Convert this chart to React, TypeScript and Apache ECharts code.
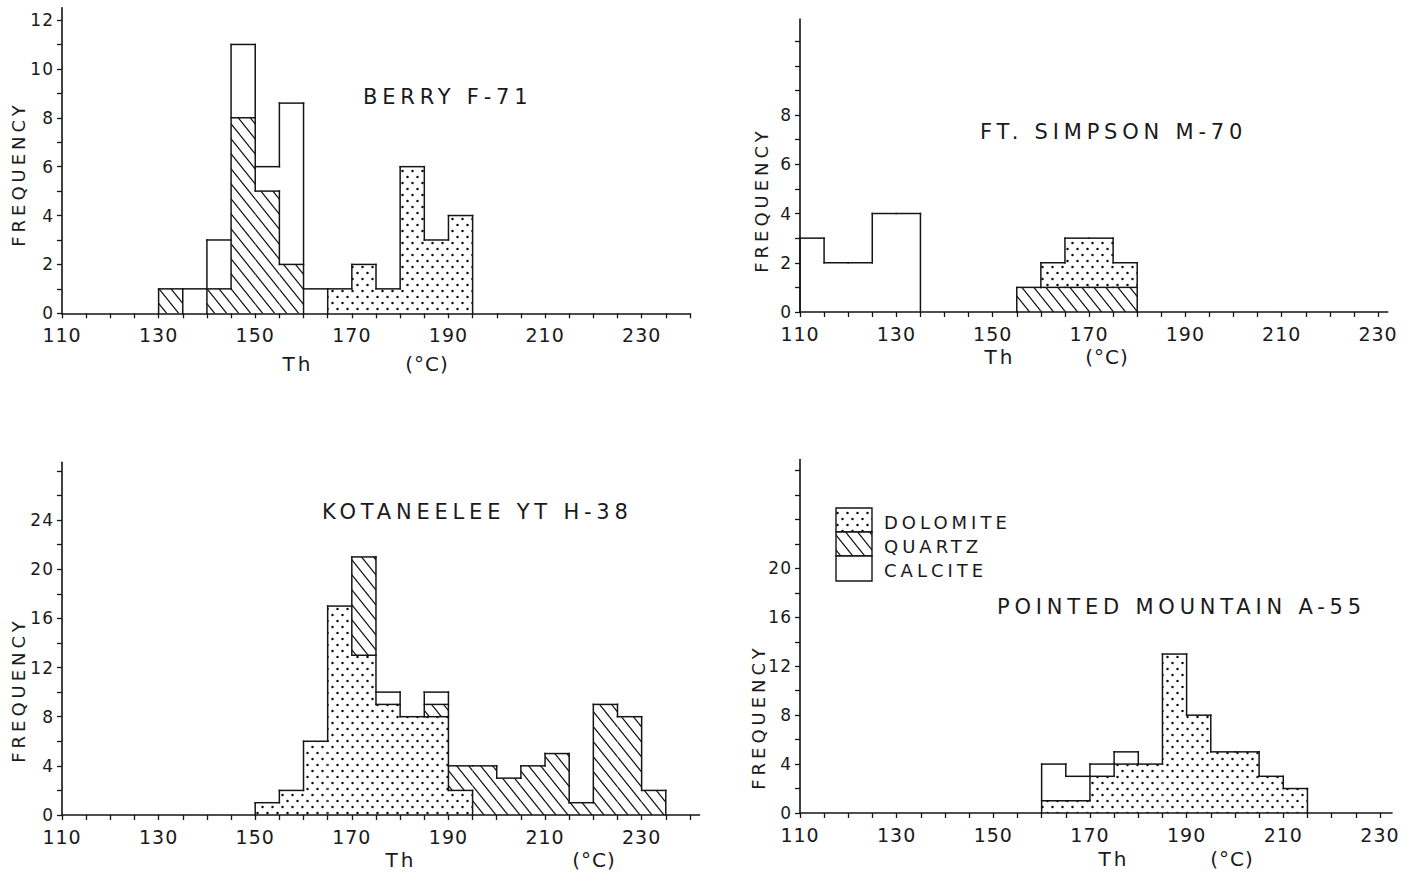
import React, { useEffect, useRef } from 'react';
import * as echarts from 'echarts';

const FONT = '"DejaVu Sans", "Liberation Sans", sans-serif';
const INK = '#151515';
const BIN_WIDTH = 5;

// ---------- Panel 1: BERRY F-71 ----------
const berryBins = [130, 135, 140, 145, 150, 155, 160, 165, 170, 175, 180, 185, 190];
const berryDolomite = [0, 0, 0, 0, 0, 0, 0, 1, 2, 1, 6, 3, 4];
const berryQuartz = [1, 0, 1, 8, 5, 2, 0, 0, 0, 0, 0, 0, 0];
const berryCalcite = [0, 1, 2, 3, 1, 6.6, 1, 0, 0, 0, 0, 0, 0];

// ---------- Panel 2: FT. SIMPSON M-70 ----------
const simpsonBins = [110, 115, 120, 125, 130, 155, 160, 165, 170, 175];
const simpsonDolomite = [0, 0, 0, 0, 0, 0, 1, 2, 2, 1];
const simpsonQuartz = [0, 0, 0, 0, 0, 1, 1, 1, 1, 1];
const simpsonCalcite = [3, 2, 2, 4, 4, 0, 0, 0, 0, 0];

// ---------- Panel 3: KOTANEELEE YT H-38 ----------
const kotaBins = [150, 155, 160, 165, 170, 175, 180, 185, 190, 195, 200, 205, 210, 215, 220, 225, 230];
const kotaDolomite = [1, 2, 6, 17, 13, 9, 8, 8, 2, 0, 0, 0, 0, 0, 0, 0, 0];
const kotaQuartz = [0, 0, 0, 0, 8, 0, 0, 1, 2, 4, 3, 4, 5, 1, 9, 8, 2];
const kotaCalcite = [0, 0, 0, 0, 0, 1, 0, 1, 0, 0, 0, 0, 0, 0, 0, 0, 0];

// ---------- Panel 4: POINTED MOUNTAIN A-55 ----------
const pointedBins = [160, 165, 170, 175, 180, 185, 190, 195, 200, 205, 210];
const pointedDolomite = [1, 1, 3, 4, 4, 13, 8, 5, 5, 3, 2];
const pointedQuartz = [0, 0, 0, 0, 0, 0, 0, 0, 0, 0, 0];
const pointedCalcite = [3, 2, 1, 1, 0, 0, 0, 0, 0, 0, 0];

// ---------- Axis ticks / labels ----------
const xTickValues = [110, 115, 120, 125, 130, 135, 140, 145, 150, 155, 160, 165, 170, 175, 180, 185, 190, 195, 200, 205, 210, 215, 220, 225, 230, 235, 240];
const xLabelValues = [110, 130, 150, 170, 190, 210, 230];
const yTicksBerry = [0, 1, 2, 3, 4, 5, 6, 7, 8, 9, 10, 11, 12];
const yLabelsBerry = [0, 2, 4, 6, 8, 10, 12];
const yTicksSimpson = [0, 1, 2, 3, 4, 5, 6, 7, 8, 9, 10, 11];
const yLabelsSimpson = [0, 2, 4, 6, 8];
const yTicksKota = [0, 2, 4, 6, 8, 10, 12, 14, 16, 18, 20, 22, 24, 26, 28];
const yLabelsKota = [0, 4, 8, 12, 16, 20, 24];
const yTicksPointed = [0, 2, 4, 6, 8, 10, 12, 14, 16, 18, 20, 22, 24, 26, 28];
const yLabelsPointed = [0, 4, 8, 12, 16, 20];

const MINERALS = ['DOLOMITE', 'QUARTZ', 'CALCITE'];

type Mineral = 'dolomite' | 'quartz' | 'calcite';

const panels = [
  {
    title: 'BERRY F-71',
    bins: berryBins,
    values: { dolomite: berryDolomite, quartz: berryQuartz, calcite: berryCalcite },
    order: ['quartz', 'dolomite', 'calcite'] as Mineral[],
    grid: { left: 62, top: 7.8, width: 628, height: 305.5 },
    xMax: 240, yMax: 12.5,
    yTicks: yTicksBerry, yLabels: yLabelsBerry,
    titlePos: [363, 97], thPos: [298, 364], degPos: [427, 364], freqPos: [18, 174],
  },
  {
    title: 'FT. SIMPSON M-70',
    bins: simpsonBins,
    values: { dolomite: simpsonDolomite, quartz: simpsonQuartz, calcite: simpsonCalcite },
    order: ['quartz', 'dolomite', 'calcite'] as Mineral[],
    grid: { left: 800, top: 19, width: 587.7, height: 293 },
    xMax: 232, yMax: 11.9,
    yTicks: yTicksSimpson, yLabels: yLabelsSimpson,
    titlePos: [980, 132], thPos: [1000, 357], degPos: [1107, 357], freqPos: [761, 200],
  },
  {
    title: 'KOTANEELEE YT H-38',
    bins: kotaBins,
    values: { dolomite: kotaDolomite, quartz: kotaQuartz, calcite: kotaCalcite },
    order: ['dolomite', 'quartz', 'calcite'] as Mineral[],
    grid: { left: 62, top: 462.3, width: 637.6, height: 352.7 },
    xMax: 242, yMax: 28.7,
    yTicks: yTicksKota, yLabels: yLabelsKota,
    titlePos: [322, 512], thPos: [401, 860], degPos: [594, 860], freqPos: [18, 690],
  },
  {
    title: 'POINTED MOUNTAIN A-55',
    bins: pointedBins,
    values: { dolomite: pointedDolomite, quartz: pointedQuartz, calcite: pointedCalcite },
    order: ['dolomite', 'quartz', 'calcite'] as Mineral[],
    grid: { left: 800, top: 459.6, width: 592, height: 353.4 },
    xMax: 232.5, yMax: 28.9,
    yTicks: yTicksPointed, yLabels: yLabelsPointed,
    titlePos: [997, 607], thPos: [1114, 859], degPos: [1232, 859], freqPos: [758, 717],
  },
];

function makeDotPattern() {
  const w = 10, h = 12;
  const c = document.createElement('canvas');
  c.width = w; c.height = h;
  const g = c.getContext('2d')!;
  g.fillStyle = '#ffffff';
  g.fillRect(0, 0, w, h);
  g.fillStyle = '#0d0d0d';
  [[2.5, 3], [7.5, 9]].forEach(([x, y]) => {
    g.beginPath();
    g.arc(x, y, 1.25, 0, Math.PI * 2);
    g.fill();
  });
  return { image: c.toDataURL(), repeat: 'repeat', imageWidth: w, imageHeight: h } as any;
}

function makeHatchPattern() {
  const w = 12, h = 15;
  const c = document.createElement('canvas');
  c.width = w; c.height = h;
  const g = c.getContext('2d')!;
  g.fillStyle = '#ffffff';
  g.fillRect(0, 0, w, h);
  g.strokeStyle = '#111111';
  g.lineWidth = 1.2;
  [-w, 0, w].forEach((dx) => {
    g.beginPath();
    g.moveTo(dx - w, -h);
    g.lineTo(dx + 2 * w, 2 * h);
    g.stroke();
  });
  return { image: c.toDataURL(), repeat: 'repeat', imageWidth: w, imageHeight: h } as any;
}

type Seg = { m: Mineral; y0: number; y1: number };

function buildStacks(p: typeof panels[number]) {
  const stacks = new Map<number, Seg[]>();
  p.bins.forEach((b, i) => {
    let base = 0;
    const list: Seg[] = [];
    p.order.forEach((m) => {
      const v = p.values[m][i];
      if (v > 0) {
        list.push({ m, y0: base, y1: base + v });
        base += v;
      }
    });
    stacks.set(b, list);
  });
  return stacks;
}

function mineralAt(list: Seg[] | undefined, y: number): Mineral | null {
  if (!list) return null;
  for (const s of list) if (y > s.y0 && y < s.y1) return s.m;
  return null;
}

// Outline segments in data space: horizontal tops and vertical borders between different fills
function buildOutline(p: typeof panels[number], stacks: Map<number, Seg[]>) {
  const lines: number[][] = [];
  p.bins.forEach((b) => {
    (stacks.get(b) || []).forEach((s) => lines.push([b, s.y1, b + BIN_WIDTH, s.y1]));
  });
  const edges = new Set<number>();
  p.bins.forEach((b) => { edges.add(b); edges.add(b + BIN_WIDTH); });
  edges.forEach((e) => {
    const left = stacks.get(e - BIN_WIDTH);
    const right = stacks.get(e);
    const ys = new Set<number>([0]);
    [left, right].forEach((l) => (l || []).forEach((s) => { ys.add(s.y0); ys.add(s.y1); }));
    const sorted = Array.from(ys).sort((a, b) => a - b);
    let start: number | null = null;
    for (let k = 0; k < sorted.length - 1; k++) {
      const a = sorted[k], c = sorted[k + 1];
      const mid = (a + c) / 2;
      const differ = mineralAt(left, mid) !== mineralAt(right, mid);
      if (differ && start === null) start = a;
      if (!differ && start !== null) { lines.push([e, start, e, a]); start = null; }
    }
    if (start !== null) lines.push([e, start, e, sorted[sorted.length - 1]]);
  });
  return lines;
}

export default function App() {
  const ref = useRef<HTMLDivElement>(null);

  useEffect(() => {
    if (!ref.current) return;
    const chart = echarts.init(ref.current, null, { renderer: 'svg', width: 1415, height: 874 });
    const fills: Record<Mineral, any> = {
      dolomite: makeDotPattern(),
      quartz: makeHatchPattern(),
      calcite: '#ffffff',
    };

    const grids: any[] = [];
    const xAxes: any[] = [];
    const yAxes: any[] = [];
    const series: any[] = [];
    const graphics: any[] = [];

    panels.forEach((p, pi) => {
      grids.push({ ...p.grid, containLabel: false });
      const xt = xTickValues.filter((v) => v <= p.xMax);
      xAxes.push({
        type: 'value', gridIndex: pi, min: 110, max: p.xMax,
        axisLine: { show: true, onZero: false, lineStyle: { color: INK, width: 1.6 } },
        axisTick: { show: true, length: 5, customValues: xt, lineStyle: { color: INK, width: 1.3 } },
        axisLabel: { customValues: xLabelValues, margin: 12, fontSize: 19, color: '#1a1a1a', fontFamily: FONT, formatter: (v: number) => String(v) },
        splitLine: { show: false },
        z: 5,
      });
      yAxes.push({
        type: 'value', gridIndex: pi, min: 0, max: p.yMax,
        axisLine: { show: true, lineStyle: { color: INK, width: 1.6 } },
        axisTick: { show: true, length: 5, customValues: p.yTicks, lineStyle: { color: INK, width: 1.3 } },
        axisLabel: { customValues: p.yLabels, margin: 8, fontSize: 17, color: '#1a1a1a', fontFamily: FONT, formatter: (v: number) => String(v) },
        splitLine: { show: false },
        z: 5,
      });

      const stacks = buildStacks(p);
      const segs: Record<Mineral, number[][]> = { dolomite: [], quartz: [], calcite: [] };
      p.bins.forEach((b) => {
        (stacks.get(b) || []).forEach((s) => segs[s.m].push([b, b + BIN_WIDTH, s.y0, s.y1]));
      });
      (['dolomite', 'quartz', 'calcite'] as Mineral[]).forEach((m) => {
        if (!segs[m].length) return;
        series.push({
          type: 'custom', name: m, xAxisIndex: pi, yAxisIndex: pi, silent: true, z: 2,
          encode: { x: [0, 1], y: [2, 3] },
          data: segs[m],
          renderItem: (_params: any, api: any) => {
            const a = api.coord([api.value(0), api.value(2)]);
            const b = api.coord([api.value(1), api.value(3)]);
            return {
              type: 'rect',
              shape: { x: a[0], y: b[1], width: b[0] - a[0], height: a[1] - b[1] },
              style: { fill: fills[m], stroke: null, lineWidth: 0 },
            };
          },
        });
      });
      series.push({
        type: 'custom', name: 'outline' + pi, xAxisIndex: pi, yAxisIndex: pi, silent: true, z: 3,
        encode: { x: [0, 2], y: [1, 3] },
        data: buildOutline(p, stacks),
        renderItem: (_params: any, api: any) => {
          const a = api.coord([api.value(0), api.value(1)]);
          const b = api.coord([api.value(2), api.value(3)]);
          return {
            type: 'line',
            shape: { x1: a[0], y1: a[1], x2: b[0], y2: b[1] },
            style: { stroke: INK, lineWidth: 1.5, lineCap: 'square' },
          };
        },
      });

      graphics.push({
        type: 'text', x: p.titlePos[0], y: p.titlePos[1], silent: true,
        style: { text: p.title, fill: '#1a1a1a', font: `21px ${FONT}`, align: 'left', verticalAlign: 'middle' },
      });
      graphics.push({
        type: 'text', x: p.thPos[0], y: p.thPos[1], silent: true,
        style: { text: 'Th', fill: '#1a1a1a', font: `20px ${FONT}`, align: 'center', verticalAlign: 'middle' },
      });
      graphics.push({
        type: 'text', x: p.degPos[0], y: p.degPos[1], silent: true,
        style: { text: '(°C)', fill: '#1a1a1a', font: `20px ${FONT}`, align: 'center', verticalAlign: 'middle' },
      });
      graphics.push({
        type: 'text', x: p.freqPos[0], y: p.freqPos[1], rotation: Math.PI / 2, silent: true,
        style: { text: 'FREQUENCY', fill: '#1a1a1a', font: `18px ${FONT}`, align: 'center', verticalAlign: 'middle' },
      });
    });

    // Legend (in the Pointed Mountain panel)
    const legendFills = [fills.dolomite, fills.quartz, fills.calcite];
    const legendTops = [508, 532, 556];
    const legendH = [24, 24, 25];
    MINERALS.forEach((name, i) => {
      graphics.push({
        type: 'rect', silent: true,
        shape: { x: 836, y: legendTops[i], width: 36, height: legendH[i] },
        style: { fill: legendFills[i], stroke: INK, lineWidth: 1.4 },
      });
      graphics.push({
        type: 'text', x: 884, y: [522, 546, 570][i], silent: true,
        style: { text: name, fill: '#1a1a1a', font: `18px ${FONT}`, align: 'left', verticalAlign: 'middle' },
      });
    });

    chart.setOption({
      animation: false,
      backgroundColor: '#ffffff',
      textStyle: { fontFamily: FONT },
      grid: grids,
      xAxis: xAxes,
      yAxis: yAxes,
      series,
      graphic: graphics,
    });

    const spacing: Record<string, number> = { Th: 3, '(°C)': 1, FREQUENCY: 4 };
    panels.forEach((p) => { spacing[p.title] = 4.8; });
    MINERALS.forEach((m) => { spacing[m] = 4; });
    const applySpacing = () => {
      ref.current?.querySelectorAll('text').forEach((t) => {
        const s = spacing[(t.textContent || '').trim()];
        if (s != null) t.setAttribute('letter-spacing', s + 'px');
        else if (/^\d+$/.test((t.textContent || '').trim())) t.setAttribute('letter-spacing', '1px');
      });
    };
    applySpacing();
    chart.on('finished', applySpacing);

    return () => { chart.dispose(); };
  }, []);

  return <div ref={ref} style={{ position: 'fixed', left: 0, top: 0, width: 1415, height: 874, background: '#fff' }} />;
}
